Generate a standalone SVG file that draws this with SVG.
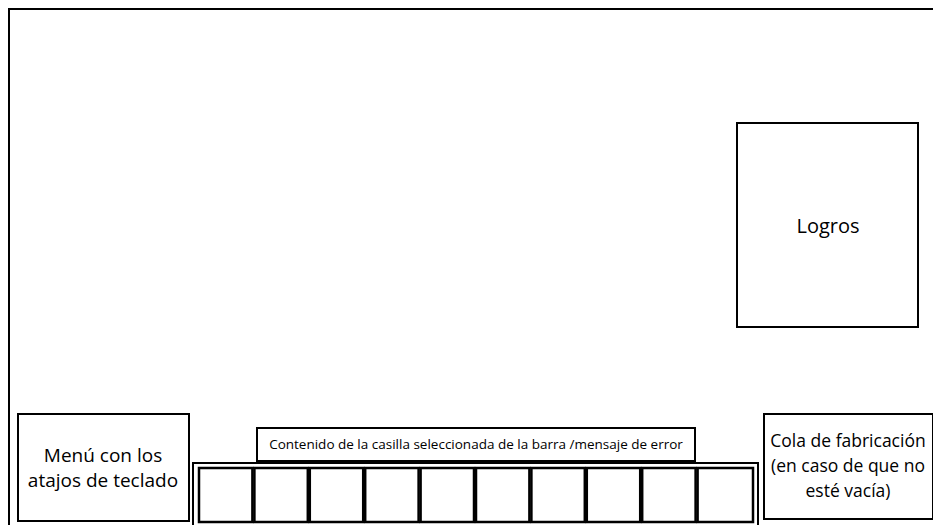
<svg xmlns="http://www.w3.org/2000/svg" width="933" height="525" viewBox="0 0 933 525">
<style>
.b{fill:#fff;stroke:#000;stroke-width:2}
.c{fill:#fff;stroke:#000;stroke-width:2.5}
.t{font-family:"Open Sans","Noto Sans",sans-serif;fill:#000;text-anchor:middle}
</style>
<rect width="933" height="525" fill="#fff"/>
<g id="screen"><rect class="b" x="9" y="9" width="940" height="530"/></g>
<g id="logros">
<rect class="b" x="737" y="123" width="181" height="204"/>
<text class="t" x="828" y="233" font-size="20">Logros</text>
</g>
<g id="menu">
<rect class="b" x="18" y="414" width="171" height="107"/>
<text class="t" x="103" y="462" font-size="19">Menú con los</text>
<text class="t" x="103" y="487" font-size="19">atajos de teclado</text>
</g>
<g id="mensaje">
<rect class="b" x="257" y="428" width="438" height="33"/>
<text class="t" x="476" y="449" font-size="13.5">Contenido de la casilla seleccionada de la barra /mensaje de error</text>
</g>
<g id="barra">
<rect class="b" x="193" y="463" width="565" height="70"/>
<rect class="b" x="199" y="468" width="554" height="54"/>
<rect class="c" x="199" y="468" width="53.4" height="54"/>
<rect class="c" x="254.4" y="468" width="53.4" height="54"/>
<rect class="c" x="309.8" y="468" width="53.4" height="54"/>
<rect class="c" x="365.2" y="468" width="53.4" height="54"/>
<rect class="c" x="420.6" y="468" width="53.4" height="54"/>
<rect class="c" x="476" y="468" width="53.4" height="54"/>
<rect class="c" x="531.4" y="468" width="53.4" height="54"/>
<rect class="c" x="586.8" y="468" width="53.4" height="54"/>
<rect class="c" x="642.2" y="468" width="53.4" height="54"/>
<rect class="c" x="697.6" y="468" width="55.4" height="54"/>
</g>
<g id="cola">
<rect class="b" x="764" y="414" width="169" height="105"/>
<text class="t" x="848" y="447" font-size="17.5">Cola de fabricación</text>
<text class="t" x="848" y="472" font-size="17.5">(en caso de que no</text>
<text class="t" x="848" y="497" font-size="17.5">esté vacía)</text>
</g>
<g id="connectors"/>
</svg>
